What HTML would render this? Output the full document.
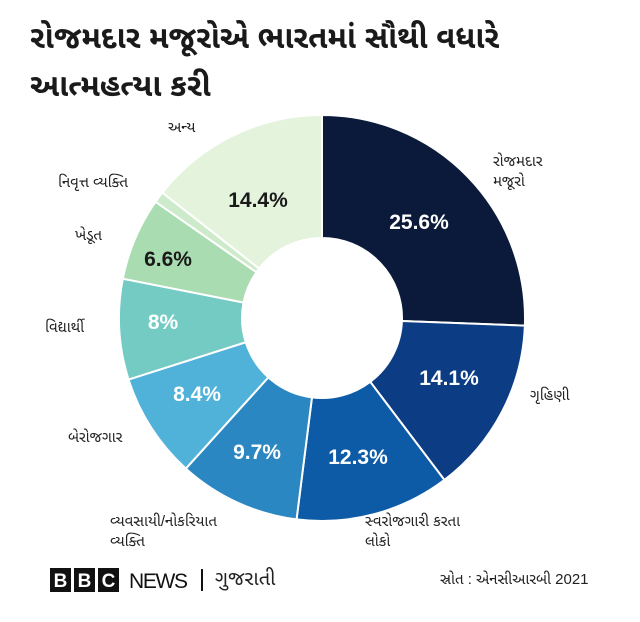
<!DOCTYPE html>
<html><head><meta charset="utf-8"><style>
body{margin:0;background:#fff;width:640px;height:622px;overflow:hidden;font-family:"Liberation Sans","Noto Sans Gujarati","Lohit Gujarati",sans-serif;}
.t{position:absolute;left:30px;top:14px;font-size:31px;font-weight:bold;line-height:48px;color:#1a1a1a;}
.l{position:absolute;font-size:15px;color:#222;line-height:20px;}
</style></head><body>
<div class="t">રોજમદાર મજૂરોએ ભારતમાં સૌથી વધારે<br>આત્મહત્યા કરી</div>
<svg width="640" height="622" style="position:absolute;left:0;top:0">
<g id="d" stroke="#fff" stroke-width="2"></g>
<g font-family="Liberation Sans,sans-serif" font-size="21" font-weight="bold" text-anchor="middle">
<text x="419" y="229" fill="#fff">25.6%</text>
<text x="449" y="385" fill="#fff">14.1%</text>
<text x="358" y="464" fill="#fff">12.3%</text>
<text x="257" y="459" fill="#fff">9.7%</text>
<text x="197" y="401" fill="#fff">8.4%</text>
<text x="163" y="329" fill="#fff">8%</text>
<text x="168" y="266" fill="#1a1a1a">6.6%</text>
<text x="258" y="207" fill="#1a1a1a">14.4%</text>
</g>
<rect x="50" y="568" width="21" height="24" fill="#111"/><rect x="74" y="568" width="21" height="24" fill="#111"/><rect x="98" y="568" width="21" height="24" fill="#111"/>
<g font-family="Liberation Sans,sans-serif" font-weight="bold" font-size="19" fill="#fff" text-anchor="middle"><text x="60.5" y="587">B</text><text x="84.5" y="587">B</text><text x="108.5" y="587">C</text></g>
<text x="129" y="588" font-family="Liberation Sans,sans-serif" font-size="21" fill="#111" textLength="59">NEWS</text>
<rect x="201" y="569" width="2" height="22" fill="#111"/>
</svg>
<div class="l" style="left:493px;top:152px">રોજમદાર<br>મજૂરો</div>
<div class="l" style="left:530px;top:386px">ગૃહિણી</div>
<div class="l" style="left:365px;top:512px">સ્વરોજગારી કરતા<br>લોકો</div>
<div class="l" style="left:110px;top:512px">વ્યવસાયી/નોકરિયાત<br>વ્યક્તિ</div>
<div class="l" style="left:68px;top:428px">બેરોજગાર</div>
<div class="l" style="left:45px;top:318px">વિદ્યાર્થી</div>
<div class="l" style="left:75px;top:226px">ખેડૂત</div>
<div class="l" style="left:58px;top:173px">નિવૃત્ત વ્યક્તિ</div>
<div class="l" style="left:168px;top:118px">અન્ય</div>
<div class="l" style="left:215px;top:566px;font-size:20px;line-height:26px;">ગુજરાતી</div>
<div class="l" style="left:440px;top:570px;font-size:15px;">સ્રોત : એનસીઆરબી 2021</div>
<script>
var v=[25.6,14.1,12.3,9.7,8.4,8,6.6,0.9,14.4],c=["#0b1a3a","#0c3c84","#0d5ba6","#2b87c1","#50b2d9","#74cbc4","#a9dcb0","#cdeacb","#e3f3dc"];
var cx=322,cy=318,R=203,r=80,a=0,s="";
function p(rad,ang){var t=(ang-90)*Math.PI/180;return (cx+rad*Math.cos(t)).toFixed(2)+","+(cy+rad*Math.sin(t)).toFixed(2);}
for(var i=0;i<v.length;i++){var b=a+v[i]*3.6,L=b-a>180?1:0;
s+='<path fill="'+c[i]+'" d="M'+p(R,a)+' A'+R+','+R+' 0 '+L+' 1 '+p(R,b)+' L'+p(r,b)+' A'+r+','+r+' 0 '+L+' 0 '+p(r,a)+' Z"/>';a=b;}
document.getElementById("d").innerHTML=s;
</script>
</body></html>
